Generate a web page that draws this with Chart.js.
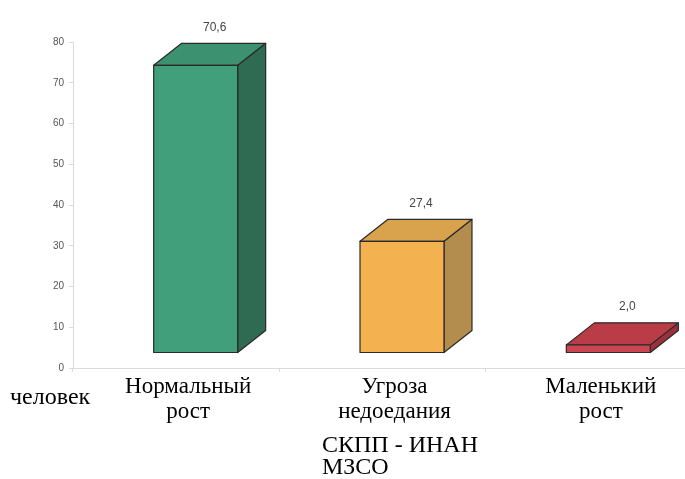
<!DOCTYPE html>
<html>
<head>
<meta charset="utf-8">
<script src="https://cdn.jsdelivr.net/npm/chart.js@4.4.1/dist/chart.umd.min.js"></script>
<style>
  html, body { margin:0; padding:0; background:#fff; overflow:hidden; width:685px; height:479px; }
  #wrap { position:relative; width:692px; height:479px; }
</style>
</head>
<body>
<div id="wrap"><canvas id="c" width="692" height="479"></canvas></div>
<script>
// ---- data ----
const categories = [["Нормальный", "рост"], ["Угроза", "недоедания"], ["Маленький", "рост"]];
const values = [70.6, 27.4, 2.0];
const valueLabels = ["70,6", "27,4", "2,0"];
const yTicks = [0, 10, 20, 30, 40, 50, 60, 70, 80];
const axisLabel = "человек";
const sourceLines = ["СКПП - ИНАН", "МЗСО"];

// ---- styles ----
const faceColors = [
  { front: "#41a07b", top: "#3b9170", side: "#2f6a52" },
  { front: "#f3b24f", top: "#d9a24c", side: "#b38d4e" },
  { front: "#cc4550", top: "#b93c46", side: "#9c3139" }
];
const DX = 28, DY = 22, LIFT = 15, OFFX = 19.5;
const SERIF = "'Liberation Serif', 'Times New Roman', serif";

const box3d = {
  id: "box3d",
  afterDatasetsDraw(chart) {
    const ctx = chart.ctx;
    const meta = chart.getDatasetMeta(0);
    meta.data.forEach((el, i) => {
      const w = el.width;
      const l = el.x + OFFX - w / 2, r = el.x + OFFX + w / 2;
      const t = el.y - LIFT, b = el.base - LIFT;
      const c = faceColors[i];
      ctx.save();
      ctx.lineWidth = 1.2;
      ctx.strokeStyle = "#2a2a2a";
      ctx.lineJoin = "round";
      // side
      ctx.beginPath();
      ctx.moveTo(r, t); ctx.lineTo(r + DX, t - DY); ctx.lineTo(r + DX, b - DY); ctx.lineTo(r, b); ctx.closePath();
      ctx.fillStyle = c.side; ctx.fill(); ctx.stroke();
      // top
      ctx.beginPath();
      ctx.moveTo(l, t); ctx.lineTo(l + DX, t - DY); ctx.lineTo(r + DX, t - DY); ctx.lineTo(r, t); ctx.closePath();
      ctx.fillStyle = c.top; ctx.fill(); ctx.stroke();
      // front
      ctx.beginPath();
      ctx.rect(l, t, r - l, b - t);
      ctx.fillStyle = c.front; ctx.fill(); ctx.stroke();
      // value label
      ctx.fillStyle = "#444";
      ctx.font = "12px 'Liberation Sans', Arial, sans-serif";
      ctx.textAlign = "center";
      ctx.textBaseline = "middle";
      ctx.fillText(valueLabels[i], (l + r) / 2 + DX / 2 + 5, t - DY - 16);
      ctx.restore();
    });
    // extra texts
    ctx.save();
    ctx.fillStyle = "#000";
    ctx.font = "24px " + SERIF;
    ctx.textAlign = "left";
    ctx.textBaseline = "middle";
    ctx.fillText(axisLabel, 10, 398);
    ctx.fillText(sourceLines[0], 322, 446);
    ctx.fillText(sourceLines[1], 322, 468);
    ctx.restore();
  }
};

new Chart(document.getElementById("c"), {
  type: "bar",
  data: {
    labels: categories,
    datasets: [{
      data: values,
      backgroundColor: "rgba(0,0,0,0)",
      borderWidth: 0,
      barPercentage: 0.407,
      categoryPercentage: 1
    }]
  },
  options: {
    responsive: false,
    animation: false,
    events: [],
    layout: { padding: { top: 42, left: 0, right: 0, bottom: 0 } },
    plugins: { legend: { display: false }, tooltip: { enabled: false }, title: { display: false } },
    scales: {
      x: {
        grid: { display: true, drawOnChartArea: false, tickLength: 4, color: "#dadada", offset: true },
        border: { color: "#dadada" },
        ticks: {
          color: "#000",
          font: { family: SERIF, size: 23, lineHeight: 1.08 },
          labelOffset: 12,
          padding: 3,
          maxRotation: 0,
          autoSkip: false
        },
        afterFit(s) { s.height = 479 - 368; }
      },
      y: {
        min: 0, max: 80,
        afterBuildTicks(s) { s.ticks = yTicks.map(v => ({ value: v })); },
        grid: { display: true, drawOnChartArea: false, tickLength: 4, color: "#dadada" },
        border: { color: "#dadada" },
        ticks: {
          color: "#555",
          font: { family: "'Liberation Sans', Arial, sans-serif", size: 10 },
          padding: 5
        },
        afterFit(s) { s.width = 73; }
      }
    }
  },
  plugins: [box3d]
});
</script>
</body>
</html>
